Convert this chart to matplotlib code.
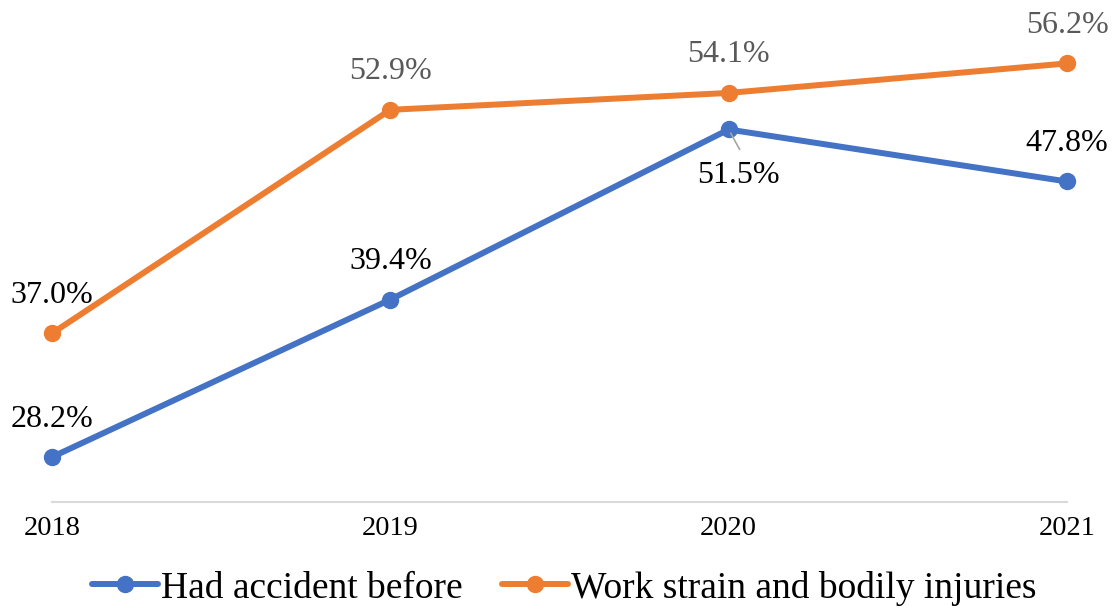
import matplotlib
matplotlib.use("Agg")
import matplotlib.pyplot as plt

years = ["2018", "2019", "2020", "2021"]
accident = [28.2, 39.4, 51.5, 47.8]
strain = [37.0, 52.9, 54.1, 56.2]
accident_labels = ["28.2%", "39.4%", "51.5%", "47.8%"]
strain_labels = ["37.0%", "52.9%", "54.1%", "56.2%"]

plt.rcParams['font.family'] = ['Liberation Serif', 'DejaVu Serif']

BLUE = "#4472C4"
ORANGE = "#ED7D31"

fig = plt.figure(figsize=(11.15, 6.13), dpi=100)
ax = fig.add_axes([52/1115, (613-502)/613, 1015/1115, 492/613])

x = list(range(len(years)))
ax.plot(x, accident, color=BLUE, lw=4.3, marker='o', ms=11.5,
        solid_capstyle='round', label="Had accident before", clip_on=False, zorder=3)
ax.plot(x, strain, color=ORANGE, lw=4.3, marker='o', ms=11.5,
        solid_capstyle='round', label="Work strain and bodily injuries", clip_on=False, zorder=3)

ax.set_xlim(0, 3)
ax.set_ylim(25, 60)
ax.set_xticks(x)
ax.set_xticklabels(years, fontsize=20.5)
ax.set_yticks([])
ax.tick_params(axis='x', length=0, pad=10)
for s in ['top', 'right', 'left']:
    ax.spines[s].set_visible(False)
ax.spines['bottom'].set_color('#D9D9D9')
ax.spines['bottom'].set_linewidth(1.5)

pt = 72/100  # px -> pt
LFS = 23
for i, (v, lab) in enumerate(zip(accident, accident_labels)):
    if i == 2:
        ax.annotate(lab, (i, v), xytext=(10*pt, -46*pt), textcoords='offset points',
                    ha='center', va='center', fontsize=LFS, color='black')
        ax.annotate("", (i, v), xytext=(11*pt, -20*pt), textcoords='offset points',
                    arrowprops=dict(arrowstyle='-', color='#A6A6A6', lw=1.2,
                                    shrinkA=0, shrinkB=3))
    else:
        ax.annotate(lab, (i, v), xytext=(0, 38*pt), textcoords='offset points',
                    ha='center', va='center', fontsize=LFS, color='black')

for i, (v, lab) in enumerate(zip(strain, strain_labels)):
    col = 'black' if i == 0 else '#595959'
    ax.annotate(lab, (i, v), xytext=(0, 38*pt), textcoords='offset points',
                ha='center', va='center', fontsize=LFS, color=col)

leg = fig.legend(loc='center', bbox_to_anchor=(564/1115, 1 - 588/613), ncol=2,
                 frameon=False, fontsize=27, handlelength=1.76, handletextpad=0.08,
                 columnspacing=1.05, borderpad=0)

fig.savefig("out.png", dpi=100)
